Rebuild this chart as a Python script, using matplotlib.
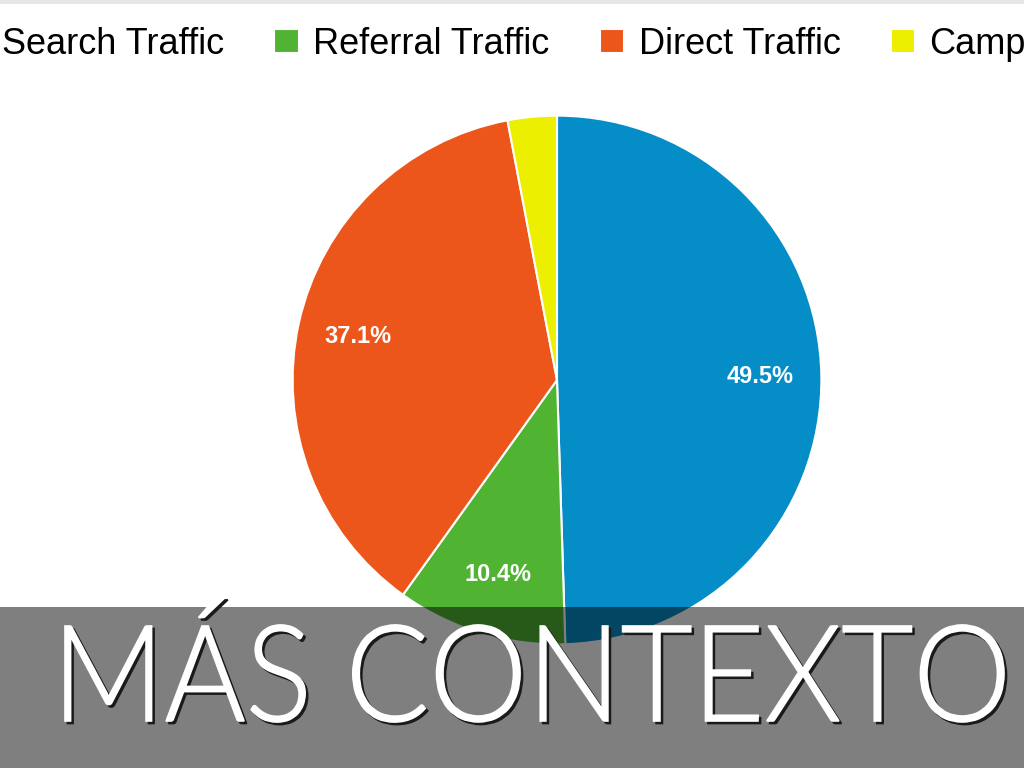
import matplotlib.pyplot as plt
from matplotlib.patches import Rectangle, PathPatch
from matplotlib.textpath import TextPath
from matplotlib.font_manager import FontProperties
from matplotlib.transforms import Affine2D, IdentityTransform

# --- Data ---
labels = ["Search Traffic", "Referral Traffic", "Direct Traffic", "Campaigns"]
shares = [49.5, 10.4, 37.1, 3.0]
colors = ["#058DC7", "#50B432", "#ED561B", "#EDEF00"]
banner_text = "MÁS CONTEXTO"

W, H = 1024, 768
fig = plt.figure(figsize=(W / 100, H / 100), dpi=100)
fig.patch.set_facecolor("white")

# thin grey strip at the very top
fig.patches.append(Rectangle((0, 1 - 4 / H), 1, 4 / H, transform=fig.transFigure,
                             facecolor="#e6e6e6", edgecolor="none"))

# --- Pie ---
cx, cy, r = 557, 380, 267
ax = fig.add_axes([(cx - r) / W, (H - cy - r) / H, 2 * r / W, 2 * r / H])
wedges, _, autotexts = ax.pie(
    shares, colors=colors, startangle=90, counterclock=False,
    autopct=lambda p: f"{p:.1f}%" if p > 5 else "", pctdistance=0.77,
    wedgeprops=dict(edgecolor="white", linewidth=1.5),
    textprops=dict(color="white", fontsize=17, fontweight="bold",
                   family="Liberation Sans"))
ax.set_xlim(-1.01, 1.01)
ax.set_ylim(-1.01, 1.01)
ax.set_aspect("equal")
ax.axis("off")

# --- Legend (cut off on both sides like the screenshot) ---
fig.legend(wedges, labels, loc="center left", bbox_to_anchor=(-0.036, 1 - 44 / H),
           ncol=4, frameon=False, prop=dict(family="Liberation Sans", size=26),
           handlelength=0.67, handleheight=0.67, handletextpad=0.4,
           columnspacing=1.4, borderaxespad=0, borderpad=0)

# --- Semi-transparent banner ---
fig.patches.append(Rectangle((0, 0), 1, (H - 607) / H, transform=fig.transFigure,
                             facecolor="black", alpha=0.5, edgecolor="none", zorder=5))

# --- Banner title, stretched into its box ---
fp = FontProperties(family=["Lato", "DejaVu Sans"], weight=300)
tp = TextPath((0, 0), banner_text, size=100, prop=fp)
cap_h = TextPath((0, 0), "M", size=100, prop=fp).get_extents().height
ext = tp.get_extents()
x0, x1, base, top = 65, 1004, H - 721, H - 626
sx = (x1 - x0) / ext.width
sy = (top - base) / cap_h
for dx, dy, col, z in [(2.5, -2.5, "#1a1a1a", 6), (0, 0, "white", 7)]:
    tr = Affine2D().translate(-ext.x0, 0).scale(sx, sy).translate(x0 + dx, base + dy)
    path = tr.transform_path(tp)
    fig.patches.append(PathPatch(path, transform=IdentityTransform(),
                                 facecolor=col, edgecolor=col, linewidth=1.2,
                                 zorder=z))

fig.savefig("out.png", dpi=100)
